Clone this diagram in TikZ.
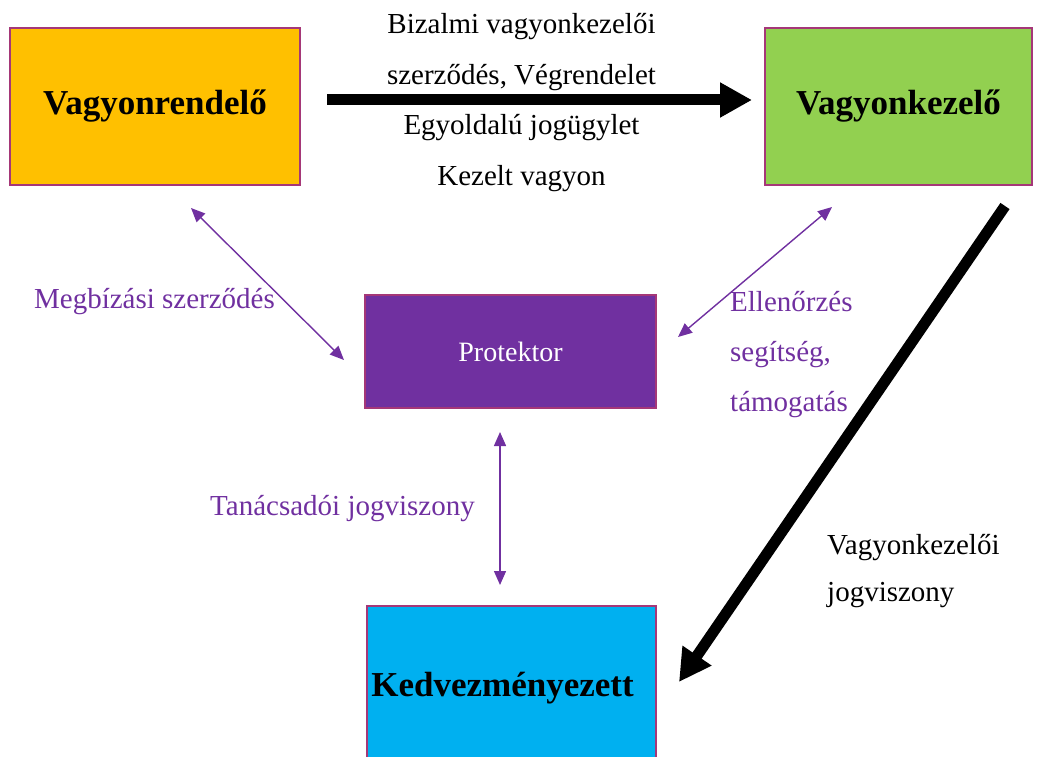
\documentclass[tikz,border=0pt]{standalone}
\usepackage{fontspec}
\setmainfont{Liberation Serif}
\usepackage{xcolor}
\usetikzlibrary{arrows.meta}
\definecolor{orangebox}{RGB}{255,192,0}
\definecolor{greenbox}{RGB}{146,208,80}
\definecolor{purplebox}{RGB}{112,48,160}
\definecolor{bluebox}{RGB}{0,176,240}
\definecolor{rimcol}{RGB}{165,55,120}
\definecolor{purpletext}{RGB}{112,48,160}
\tikzset{
  party/.style={draw=rimcol,line width=1.6pt,minimum width=290pt,minimum height=157pt,inner sep=0pt,font=\fontsize{35}{40}\selectfont\bfseries},
  bigarrow/.style={line width=11pt,-{Triangle[length=32pt,width=33pt]}},
  linkarrow/.style={purpletext,line width=1.4pt,{Triangle[length=14pt,width=12pt]}-{Triangle[length=14pt,width=12pt]}},
  lbl/.style={font=\fontsize{29}{50}\selectfont,inner sep=0pt}
}

\begin{document}
\begin{tikzpicture}[x=1pt,y=-1pt]
\useasboundingbox (0,0) rectangle (1044,757);
% boxes
\node[party,fill=orangebox] (rendelo) at (155,106.5) {Vagyonrendelő};
\node[party,fill=greenbox,minimum width=267pt] (kezelo) at (898.5,106.5) {Vagyonkezelő};
\node[party,fill=purplebox,minimum width=291pt,minimum height=113pt,text=white,font=\fontsize{28}{32}\selectfont] (protektor) at (510.5,351.5) {Protektor};
\node[party,fill=bluebox,minimum width=289pt,minimum height=164pt] (kedvez) at (511.5,688) {Kedvezményezett\hspace*{18pt}};
%
\coordinate (h1) at (327,100);
\coordinate (h2) at (752,100);
\draw[bigarrow] (h1) -- (h2);
\coordinate (d1) at (1005,206);
\coordinate (d2) at (679,682);
\draw[bigarrow] (d1) -- (d2);
%
\coordinate (p1) at (191,208);
\coordinate (p2) at (344,360);
\draw[linkarrow] (p1) -- (p2);
\coordinate (q1) at (832,207);
\coordinate (q2) at (678,337);
\draw[linkarrow] (q1) -- (q2);
\coordinate (v1) at (500,432);
\coordinate (v2) at (500,585);
\draw[linkarrow] (v1) -- (v2);
%
\node[lbl,font=\fontsize{29}{50.7}\selectfont,align=center,anchor=north] (alapitas) at (521.5,13) {Bizalmi vagyonkezelői\\szerződés, Végrendelet\\Egyoldalú jogügylet\\Kezelt vagyon};
\node[lbl,text=purpletext,anchor=base] (megbizas) at (154.5,308) {Megbízási szerződés};
\node[lbl,text=purpletext,align=left,anchor=north west] (ellenorzes) at (730,291) {Ellenőrzés\\segítség,\\támogatás};
\node[lbl,text=purpletext,anchor=base] (tanacs) at (342.5,515) {Tanácsadói jogviszony};
\node[lbl,font=\fontsize{29}{47}\selectfont,align=left,anchor=north west] (jogviszony) at (827,534) {Vagyonkezelői\\jogviszony};
\end{tikzpicture}
\end{document}
